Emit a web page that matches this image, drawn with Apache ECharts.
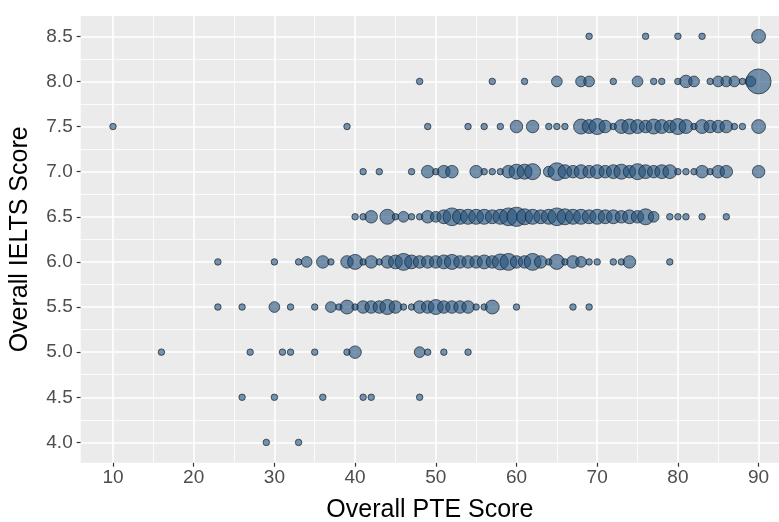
<!DOCTYPE html>
<html>
<head>
<meta charset="utf-8">
<script src="https://cdn.jsdelivr.net/npm/echarts@6/dist/echarts.min.js"></script>
<style>
html, body { margin: 0; padding: 0; background: #fff; }
#chart { width: 779px; height: 522px; }
</style>
</head>
<body>
<div id="chart"></div>
<script>
// axis breaks (ggplot style: major + minor)
var xTicks = [10, 20, 30, 40, 50, 60, 70, 80, 90];
var xMinor = [15, 25, 35, 45, 55, 65, 75, 85];
var yTicks = [4.0, 4.5, 5.0, 5.5, 6.0, 6.5, 7.0, 7.5, 8.0, 8.5];
var yMinor = [4.25, 4.75, 5.25, 5.75, 6.25, 6.75, 7.25, 7.75, 8.25];

// PTE scores and number of students at each IELTS band
var pte85 = [69, 76, 80, 83, 90];
var cnt85 = [1, 1, 1, 1, 4];

var pte80 = [48, 57, 61, 65, 68, 69, 72, 75, 77, 78, 80, 81, 82, 84, 85, 86, 87, 88, 89, 90];
var cnt80 = [1, 1, 1, 2, 2, 2, 1, 2, 1, 1, 1, 3, 2, 1, 2, 2, 2, 1, 2, 20];

var pte75 = [10, 39, 49, 54, 56, 58, 60, 62, 64, 65, 66, 68, 69, 70, 71, 72, 73, 74, 75, 76, 77, 78, 79, 80, 81, 82, 83, 84, 85, 86, 87, 88, 90];
var cnt75 = [1, 1, 1, 1, 1, 1, 3, 3, 1, 1, 1, 5, 4, 6, 3, 1, 4, 5, 4, 3, 5, 4, 3, 6, 4, 1, 4, 3, 3, 3, 1, 1, 4];

var pte70 = [41, 43, 47, 49, 50, 51, 52, 55, 56, 57, 58, 59, 60, 61, 62, 64, 65, 66, 67, 68, 69, 70, 71, 72, 73, 74, 75, 76, 77, 78, 79, 80, 81, 82, 83, 84, 85, 86, 90];
var cnt70 = [1, 1, 1, 3, 1, 3, 3, 3, 1, 1, 1, 3, 5, 5, 6, 2, 8, 4, 3, 4, 3, 4, 3, 4, 5, 3, 6, 4, 3, 4, 4, 1, 1, 1, 3, 1, 3, 3, 3];

var pte65 = [40, 41, 42, 44, 45, 46, 47, 48, 49, 50, 51, 52, 53, 54, 55, 56, 57, 58, 59, 60, 61, 62, 63, 64, 65, 66, 67, 68, 69, 70, 71, 72, 73, 74, 75, 76, 77, 79, 80, 81, 83, 86];
var cnt65 = [1, 1, 3, 5, 1, 2, 1, 1, 3, 2, 4, 8, 5, 5, 5, 5, 4, 5, 8, 10, 6, 5, 4, 5, 8, 6, 5, 5, 4, 5, 4, 4, 3, 4, 3, 6, 2, 1, 1, 1, 1, 1];

var pte60 = [23, 30, 33, 34, 36, 37, 39, 40, 41, 42, 43, 44, 45, 46, 47, 48, 49, 50, 51, 52, 53, 54, 55, 56, 57, 58, 59, 60, 61, 62, 63, 64, 65, 66, 67, 68, 69, 70, 72, 73, 74, 79];
var cnt60 = [1, 1, 1, 2, 3, 1, 3, 5, 1, 3, 1, 3, 4, 7, 4, 3, 3, 3, 4, 5, 3, 3, 3, 4, 3, 6, 7, 3, 3, 7, 3, 1, 5, 1, 3, 2, 1, 1, 1, 1, 3, 1];

var pte55 = [23, 26, 30, 32, 35, 37, 38, 39, 40, 41, 42, 43, 44, 45, 46, 47, 48, 49, 50, 51, 52, 53, 54, 55, 56, 57, 60, 67, 69];
var cnt55 = [1, 1, 2, 1, 1, 2, 1, 4, 1, 3, 3, 3, 5, 3, 1, 1, 3, 3, 5, 3, 3, 3, 3, 1, 1, 4, 1, 1, 1];

var pte50 = [16, 27, 31, 32, 35, 39, 40, 48, 49, 51, 54];
var cnt50 = [1, 1, 1, 1, 1, 1, 3, 2, 1, 1, 1];

var pte45 = [26, 30, 36, 41, 42, 48];
var cnt45 = [1, 1, 1, 1, 1, 1];

var pte40 = [29, 33];
var cnt40 = [1, 1];

var bands = [
  [8.5, pte85, cnt85], [8.0, pte80, cnt80], [7.5, pte75, cnt75], [7.0, pte70, cnt70],
  [6.5, pte65, cnt65], [6.0, pte60, cnt60], [5.5, pte55, cnt55], [5.0, pte50, cnt50],
  [4.5, pte45, cnt45], [4.0, pte40, cnt40]
];

var points = [];
var maxN = 1;
bands.forEach(function (b) {
  b[1].forEach(function (p, i) {
    points.push([p, b[0], b[2][i]]);
    if (b[2][i] > maxN) maxN = b[2][i];
  });
});

var gridLines = [];
xMinor.forEach(function (v) { gridLines.push({ xAxis: v, lineStyle: { width: 0.8 } }); });
yMinor.forEach(function (v) { gridLines.push({ yAxis: v, lineStyle: { width: 0.8 } }); });
xTicks.forEach(function (v) { gridLines.push({ xAxis: v, lineStyle: { width: 1.6 } }); });
yTicks.forEach(function (v) { gridLines.push({ yAxis: v, lineStyle: { width: 1.6 } }); });

var myChart = echarts.init(document.getElementById('chart'));

var option = {
  backgroundColor: '#ffffff',
  animation: false,
  grid: {
    left: 80.7,
    top: 16,
    right: 0,
    bottom: 59.3,
    outerBoundsMode: 'none',
    show: true,
    backgroundColor: '#EBEBEB',
    borderWidth: 0
  },
  xAxis: {
    type: 'value',
    min: 6,
    max: 92.53,
    name: 'Overall PTE Score',
    nameLocation: 'middle',
    nameGap: 35,
    nameTextStyle: { color: '#000', fontSize: 25, fontFamily: 'Liberation Sans' },
    axisLine: { show: false },
    axisTick: { show: true, length: 4, customValues: xTicks, lineStyle: { color: '#333', width: 1.2 } },
    axisLabel: { customValues: xTicks, color: '#4D4D4D', fontSize: 19, margin: 6, fontFamily: 'Liberation Sans' },
    splitLine: { show: false }
  },
  yAxis: {
    type: 'value',
    min: 3.775,
    max: 8.725,
    name: 'Overall IELTS Score',
    nameLocation: 'middle',
    nameRotate: 90,
    nameGap: 48,
    nameTextStyle: { color: '#000', fontSize: 25, fontFamily: 'Liberation Sans' },
    axisLine: { show: false },
    axisTick: { show: true, length: 4, customValues: yTicks, lineStyle: { color: '#333', width: 1.2 } },
    axisLabel: {
      customValues: yTicks, color: '#4D4D4D', fontSize: 19, margin: 8, fontFamily: 'Liberation Sans',
      formatter: function (v) { return v.toFixed(1); }
    },
    splitLine: { show: false }
  },
  series: [
    {
      type: 'scatter',
      data: [],
      z: 1,
      silent: true,
      markLine: {
        z: 1,
        silent: true,
        symbol: ['none', 'none'],
        label: { show: false },
        emphasis: { disabled: true },
        lineStyle: { color: '#ffffff', type: 'solid' },
        data: gridLines
      }
    },
    {
      name: 'students',
      type: 'scatter',
      z: 5,
      data: points,
      symbolSize: function (v) {
        return 6.5 + 18.5 * Math.sqrt((v[2] - 1) / (maxN - 1));
      },
      itemStyle: {
        color: 'rgba(31,78,121,0.6)',
        borderColor: 'rgba(20,35,50,0.7)',
        borderWidth: 1,
        opacity: 1
      }
    }
  ]
};
myChart.setOption(option);
</script>
</body>
</html>
